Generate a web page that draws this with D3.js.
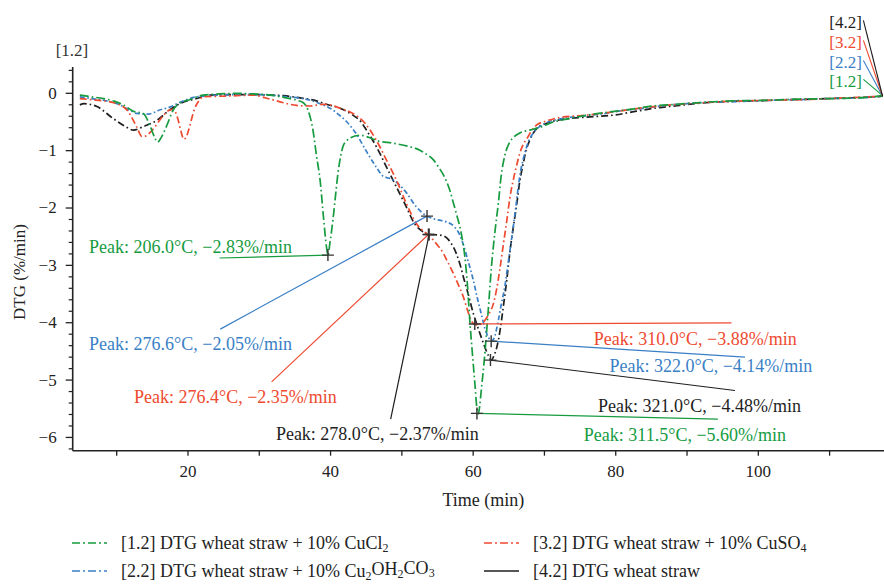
<!DOCTYPE html>
<html>
<head>
<meta charset="utf-8">
<script src="https://cdn.jsdelivr.net/npm/d3@7/dist/d3.min.js"></script>
<style>
  html, body { margin: 0; padding: 0; background: #fff; }
  svg { display: block; }
  text { font-family: "Liberation Serif", "DejaVu Serif", serif; }
</style>
</head>
<body>
<svg id="chart" width="884" height="584"></svg>
<script>
// ---------------- DATA ----------------
const xTicks = [20, 40, 60, 80, 100];
const yTicks = [0, -1, -2, -3, -4, -5, -6];

// [1.2] DTG wheat straw + 10% CuCl2
const time12 = [4.9,6.5,8.2,9.8,11.0,12.4,13.8,14.7,15.4,15.8,16.4,17.1,18.0,18.8,20.3,22.2,24.5,26.9,29.2,31.6,33.5,35.3,36.2,36.9,37.6,38.1,38.6,39.1,39.5,39.7,40.0,40.4,40.8,41.1,41.5,41.8,42.3,42.8,44.2,45.5,46.5,48.9,51.2,52.6,53.1,54.5,55.4,55.9,56.8,57.3,57.7,58.4,58.9,59.3,59.6,60.0,60.3,60.6,60.8,61.0,61.2,61.6,61.9,62.3,62.6,63.1,63.6,64.0,64.5,65.2,65.7,66.6,68.0,69.7,71.3,73.2,76.0,78.8,82.0,85.3,88.6,91.9,96.5,101.2,105.9,110.6,115.2,117.5];
const dtg12  = [-0.04,-0.07,-0.10,-0.15,-0.21,-0.32,-0.36,-0.56,-0.78,-0.86,-0.76,-0.57,-0.30,-0.19,-0.12,-0.04,-0.02,-0.01,-0.02,-0.04,-0.08,-0.13,-0.17,-0.30,-0.65,-1.10,-1.52,-2.20,-2.69,-2.83,-2.60,-2.22,-1.75,-1.41,-1.10,-0.94,-0.84,-0.79,-0.74,-0.78,-0.83,-0.88,-0.94,-1.00,-1.04,-1.17,-1.33,-1.43,-1.70,-1.92,-2.10,-2.45,-2.85,-3.40,-3.97,-4.60,-5.05,-5.50,-5.60,-5.45,-5.20,-4.70,-4.26,-3.60,-3.09,-2.45,-1.93,-1.45,-1.10,-0.86,-0.78,-0.70,-0.65,-0.59,-0.51,-0.46,-0.39,-0.34,-0.29,-0.23,-0.20,-0.17,-0.14,-0.13,-0.11,-0.10,-0.08,-0.05];

// [2.2] DTG wheat straw + 10% Cu2OH2CO3
const time22 = [4.9,6.5,8.2,10.5,12.0,12.9,14.5,16.1,17.5,18.9,20.1,21.3,24.5,28.0,31.6,34.0,36.2,38.6,40.4,41.4,42.3,43.7,45.1,46.5,47.3,48.0,48.6,49.5,50.7,52.1,53.6,54.9,56.3,57.3,58.2,58.7,59.4,60.1,60.7,61.2,61.7,62.2,62.6,63.0,63.6,64.0,64.5,65.0,65.5,66.0,66.4,66.8,67.3,67.8,68.5,69.5,70.8,72.5,75,78,81,84,87,90,94,98,102,106,110,114,117.5];
const dtg22  = [-0.07,-0.10,-0.13,-0.21,-0.31,-0.36,-0.37,-0.30,-0.25,-0.17,-0.11,-0.07,-0.04,-0.03,-0.04,-0.07,-0.10,-0.19,-0.30,-0.40,-0.50,-0.72,-1.02,-1.30,-1.44,-1.48,-1.50,-1.58,-1.74,-1.99,-2.15,-2.21,-2.25,-2.32,-2.48,-2.65,-2.95,-3.27,-3.60,-3.85,-4.10,-4.26,-4.33,-4.28,-3.97,-3.70,-3.39,-2.95,-2.51,-2.05,-1.64,-1.32,-1.06,-0.86,-0.70,-0.58,-0.50,-0.45,-0.41,-0.37,-0.31,-0.27,-0.22,-0.19,-0.16,-0.15,-0.13,-0.12,-0.10,-0.09,-0.06];

// [3.2] DTG wheat straw + 10% CuSO4
const time32 = [4.9,6.5,8.2,10.5,11.7,12.4,12.9,13.6,14.2,14.7,15.4,16.1,16.8,17.5,18.0,18.4,18.7,19.1,19.5,19.9,20.3,20.7,21.0,21.6,22.2,24.5,26.9,29.2,31.0,32.5,34.0,35.3,37.2,39.0,40.3,41.4,43.2,44.9,46.5,47.9,49.3,50.7,52.1,53.5,53.8,54.9,55.9,56.5,57.3,58.0,58.7,59.3,59.8,60.3,60.8,61.3,61.7,62.3,62.9,63.4,63.8,64.3,64.8,65.2,65.7,66.2,66.6,67.1,67.6,68.5,69.0,70.4,72.2,75,78,81,84,87,90,94,98,102,106,110,114,117.5];
const dtg32  = [-0.10,-0.12,-0.14,-0.21,-0.33,-0.48,-0.60,-0.76,-0.75,-0.70,-0.60,-0.48,-0.37,-0.30,-0.29,-0.36,-0.48,-0.68,-0.81,-0.75,-0.59,-0.40,-0.28,-0.14,-0.07,-0.06,-0.05,-0.04,-0.09,-0.14,-0.19,-0.22,-0.23,-0.20,-0.22,-0.27,-0.36,-0.53,-0.83,-1.17,-1.52,-1.93,-2.28,-2.45,-2.48,-2.63,-2.80,-2.95,-3.15,-3.35,-3.56,-3.80,-3.97,-4.04,-4.05,-4.02,-3.97,-3.85,-3.68,-3.40,-3.09,-2.65,-2.22,-1.85,-1.52,-1.25,-1.06,-0.90,-0.80,-0.62,-0.56,-0.49,-0.43,-0.40,-0.36,-0.31,-0.26,-0.22,-0.19,-0.16,-0.14,-0.13,-0.12,-0.10,-0.08,-0.06];

// [4.2] DTG wheat straw
const time42 = [4.9,5.5,7.3,9.6,11.2,12.4,13.8,15.7,17.5,18.9,21.3,23.1,26,29,31.6,33.5,35.3,38.1,39.5,41.4,43.2,44.3,45.1,46.5,47.9,49.3,50.7,51.7,53.1,54.0,55.4,56.0,56.6,57.3,57.7,58.2,58.7,59.4,60.1,60.7,61.2,61.7,62.2,62.6,63.0,63.4,63.9,64.3,64.8,65.2,65.7,66.2,66.6,67.1,67.5,68.0,69.0,70.4,72.7,76.4,79.7,83,86,89,92,96,100,104,108,112,115,117.5];
const dtg42  = [-0.21,-0.19,-0.24,-0.45,-0.58,-0.65,-0.59,-0.48,-0.30,-0.19,-0.10,-0.04,-0.03,-0.03,-0.04,-0.05,-0.08,-0.14,-0.20,-0.27,-0.39,-0.50,-0.65,-0.94,-1.29,-1.64,-1.99,-2.25,-2.43,-2.47,-2.48,-2.50,-2.56,-2.69,-2.80,-2.98,-3.21,-3.52,-3.85,-4.08,-4.26,-4.43,-4.58,-4.66,-4.58,-4.43,-4.10,-3.73,-3.25,-2.80,-2.35,-1.93,-1.55,-1.23,-1.00,-0.83,-0.62,-0.53,-0.46,-0.42,-0.39,-0.32,-0.26,-0.22,-0.18,-0.15,-0.14,-0.12,-0.11,-0.09,-0.08,-0.06];

const seriesIds    = ["1.2", "2.2", "3.2", "4.2"];
const seriesLegend = [
  ["[1.2] DTG wheat straw + 10% CuCl", ["2"]],
  ["[2.2] DTG wheat straw + 10% Cu", ["2", "OH", "2", "CO", "3"]],
  ["[3.2] DTG wheat straw + 10% CuSO", ["4"]],
  ["[4.2] DTG wheat straw", []]
];

// Peak markers: series, time (min), DTG (%/min), label
const peakSeries = ["1.2", "2.2", "3.2", "4.2", "3.2", "2.2", "4.2", "1.2"];
const peakTime   = [39.7, 53.6, 53.8, 53.9, 60.3, 62.6, 62.5, 60.6];
const peakDTG    = [-2.83, -2.15, -2.47, -2.47, -4.03, -4.33, -4.66, -5.59];
const peakLabels = [
  "Peak: 206.0°C, −2.83%/min",
  "Peak: 276.6°C, −2.05%/min",
  "Peak: 276.4°C, −2.35%/min",
  "Peak: 278.0°C, −2.37%/min",
  "Peak: 310.0°C, −3.88%/min",
  "Peak: 322.0°C, −4.14%/min",
  "Peak: 321.0°C, −4.48%/min",
  "Peak: 311.5°C, −5.60%/min"
];
</script>
<script>
// ---------------- LAYOUT / STYLE ----------------
const W = 884, H = 584;
const M = { left: 72.7, right: 884, top: 67, bottom: 450.7 };
const colors = { "1.2": "#169b3f", "2.2": "#3a7fc6", "3.2": "#ee4a30", "4.2": "#1e1e1e" };
const dashes = { "1.2": "9,3,1.6,3", "2.2": "5,2.5,1.6,2.5", "3.2": "7,3,1.6,3", "4.2": "7,3,1.6,3" };
const legendDash = { "1.2": "8,3,2,3", "2.2": "8,3,2,3", "3.2": "8,3,2,3", "4.2": null };

// annotation leader ends and label anchors in data units (time, DTG)
const leaderEnd = [[24.5,-2.88],[24.6,-4.12],[31.8,-5.04],[48.5,-5.69],[96.3,-4.01],[98.2,-4.61],[96.8,-5.19],[94.4,-5.69]];
const labelAt   = [[6.2,-2.69],[6.2,-4.37],[12.5,-5.29],[32.4,-5.94],[77.0,-4.28],[79.2,-4.76],[77.6,-5.45],[75.6,-5.96]];
const endLabelAt = { "4.2": [114.6, 1.23], "3.2": [114.6, 0.88], "2.2": [114.6, 0.53], "1.2": [114.6, 0.20] };

const svg = d3.select("#chart");
const x = d3.scaleLinear().domain([3.9, 117.7]).range([M.left, M.right]);
const y = d3.scaleLinear().domain([-6.24, 0.45]).range([M.bottom, M.top]);

const data = {
  "1.2": time12.map((t, i) => [t, dtg12[i]]),
  "2.2": time22.map((t, i) => [t, dtg22[i]]),
  "3.2": time32.map((t, i) => [t, dtg32[i]]),
  "4.2": time42.map((t, i) => [t, dtg42[i]])
};

// axes
const xAxis = d3.axisBottom(x).tickValues(d3.range(10, 111, 10)).tickSize(5)
  .tickFormat(d => xTicks.includes(d) ? d : "");
const gx = svg.append("g").attr("transform", `translate(0,${M.bottom})`).call(xAxis);
gx.select(".domain").attr("d", `M${M.left},0H${W}`).attr("stroke", "#222").attr("stroke-width", 1.6);
gx.selectAll(".tick line").attr("stroke", "#222").attr("stroke-width", 1.3);
gx.selectAll(".tick text").attr("font-size", 17).attr("fill", "#222").attr("dy", "1.05em")
  .attr("font-family", "Liberation Serif");

const minorY = d3.range(-31, 3).map(k => +(k * 0.2).toFixed(1)).filter(v => !yTicks.includes(v));
const gyMinor = svg.append("g").attr("transform", `translate(${M.left},0)`)
  .call(d3.axisLeft(y).tickValues(minorY).tickSize(4).tickFormat(""));
gyMinor.select(".domain").remove();
gyMinor.selectAll(".tick line").attr("stroke", "#222").attr("stroke-width", 1.2);

const gy = svg.append("g").attr("transform", `translate(${M.left},0)`)
  .call(d3.axisLeft(y).tickValues(yTicks).tickSize(7).tickFormat(d3.format("d")));
gy.select(".domain").attr("d", `M0,${M.top}V${M.bottom}`).attr("stroke", "#222").attr("stroke-width", 1.6);
gy.selectAll(".tick line").attr("stroke", "#222").attr("stroke-width", 1.3);
gy.selectAll(".tick text").attr("font-size", 17).attr("fill", "#222").attr("x", -16)
  .attr("font-family", "Liberation Serif");

svg.append("text").attr("x", (M.left + M.right) / 2 + 5).attr("y", 506)
  .attr("text-anchor", "middle").attr("font-size", 18).attr("fill", "#222").text("Time (min)");
svg.append("text").attr("transform", "translate(25,272) rotate(-90)")
  .attr("text-anchor", "middle").attr("font-size", 17).attr("fill", "#222").text("DTG (%/min)");
svg.append("text").attr("x", 72).attr("y", 56).attr("text-anchor", "middle")
  .attr("font-size", 17).attr("fill", "#333").text("[1.2]");

// lines
const line = d3.line().x(d => x(d[0])).y(d => y(d[1])).curve(d3.curveMonotoneX);
["4.2", "2.2", "3.2", "1.2"].forEach(id => {
  svg.append("path").datum(data[id]).attr("d", line)
    .attr("fill", "none").attr("stroke", colors[id]).attr("stroke-width", 1.7)
    .attr("stroke-dasharray", dashes[id]).attr("stroke-linejoin", "round");
});

// peak annotations
peakSeries.forEach((id, i) => {
  const px = x(peakTime[i]), py = y(peakDTG[i]);
  svg.append("line").attr("x1", px).attr("y1", py)
    .attr("x2", x(leaderEnd[i][0])).attr("y2", y(leaderEnd[i][1]))
    .attr("stroke", colors[id]).attr("stroke-width", 1.2);
  const s = 6;
  svg.append("path").attr("d", `M${px - s},${py}H${px + s}M${px},${py - s}V${py + s}`)
    .attr("stroke", "#333").attr("stroke-width", 1.4);
  svg.append("text").attr("x", x(labelAt[i][0])).attr("y", y(labelAt[i][1]))
    .attr("dy", "0.35em").attr("font-size", 18).attr("fill", colors[id]).text(peakLabels[i]);
});

// end labels at top right
seriesIds.forEach(id => {
  const last = data[id][data[id].length - 1];
  const [lt, lv] = endLabelAt[id];
  svg.append("text").attr("x", x(lt)).attr("y", y(lv)).attr("dy", "0.35em")
    .attr("text-anchor", "end").attr("font-size", 17).attr("fill", colors[id]).text(`[${id}]`);
  svg.append("line").attr("x1", x(lt) + 1.5).attr("y1", y(lv) - 2)
    .attr("x2", x(last[0])).attr("y2", y(last[1]))
    .attr("stroke", colors[id]).attr("stroke-width", 1.1);
});

// legend
const legPos = { "1.2": [72, 543], "3.2": [484, 543], "2.2": [72, 571], "4.2": [484, 571] };
seriesIds.forEach((id, i) => {
  const [lx, ly] = legPos[id];
  const ln = svg.append("line").attr("x1", lx).attr("x2", lx + 35).attr("y1", ly).attr("y2", ly)
    .attr("stroke", colors[id]).attr("stroke-width", 1.7);
  if (legendDash[id]) ln.attr("stroke-dasharray", legendDash[id]);
  const t = svg.append("text").attr("x", lx + 49).attr("y", ly).attr("dy", "0.33em")
    .attr("font-size", 18).attr("fill", "#222");
  const [main, subs] = seriesLegend[i];
  t.append("tspan").text(main);
  subs.forEach((s, k) => {
    const isSub = /^\d$/.test(s);
    if (isSub) {
      t.append("tspan").attr("font-size", 12).attr("dy", "0.25em").text(s);
    } else {
      t.append("tspan").attr("dy", "-0.25em").text(s);
    }
  });
});
</script>
</body>
</html>
